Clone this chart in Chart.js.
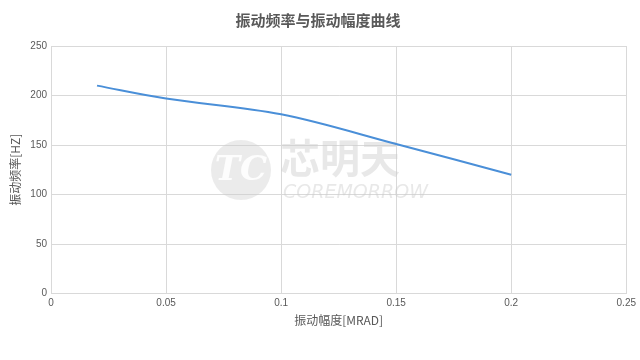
<!DOCTYPE html>
<html>
<head>
<meta charset="utf-8">
<script src="https://cdn.jsdelivr.net/npm/chart.js@4"></script>
<style>
  html, body { margin: 0; padding: 0; background: #fff; }
  #wrap { width: 640px; height: 360px; }
</style>
</head>
<body>
<div id="wrap"><canvas id="myChart"></canvas></div>
<script>
const amplitudes = [0.02, 0.05, 0.1, 0.15, 0.2];
const frequencies = [210, 197, 181, 151, 120];
const xTicks = [0, 0.05, 0.1, 0.15, 0.2, 0.25];
const yTicks = [0, 50, 100, 150, 200, 250];

const CJK = '"Noto Sans CJK SC", "Microsoft YaHei", sans-serif';
const GREY = '#595959';

// faint logo watermark behind the plot
const watermark = {
    id: 'watermark',
    beforeDatasetsDraw(chart) {
        const ctx = chart.ctx;
        ctx.save();
        ctx.fillStyle = 'rgba(205,205,205,0.4)';
        ctx.beginPath();
        ctx.arc(241, 170, 30, 0, Math.PI * 2);
        ctx.fill();
        ctx.fillStyle = 'rgba(255,255,255,0.9)';
        ctx.font = 'italic bold 34px "DejaVu Serif", serif';
        ctx.textAlign = 'center';
        ctx.textBaseline = 'middle';
        ctx.fillText('TC', 241, 171);
        ctx.fillStyle = 'rgba(205,205,205,0.45)';
        ctx.font = 'bold 40px ' + CJK;
        ctx.textAlign = 'left';
        ctx.fillText('芯明天', 280, 158);
        ctx.font = 'italic 19px "DejaVu Sans", sans-serif';
        ctx.fillText('COREMORROW', 283, 193);
        ctx.restore();
    }
};

const ctx = document.getElementById('myChart').getContext('2d');
const myChart = new Chart(ctx, {
    type: 'line',
    data: {
        datasets: [{
            data: amplitudes.map((x, i) => ({ x: x, y: frequencies[i] })),
            borderColor: '#4a8fd8',
            borderWidth: 2,
            pointRadius: 0,
            fill: false,
            tension: 0.35
        }]
    },
    options: {
        responsive: true,
        maintainAspectRatio: false,
        animation: false,
        layout: { padding: { left: 8, right: 12, top: 4, bottom: 28 } },
        plugins: {
            legend: { display: false },
            tooltip: { enabled: false },
            title: {
                display: true,
                text: '振动频率与振动幅度曲线',
                color: GREY,
                font: { family: CJK, size: 15, weight: 'bold' },
                padding: { top: 7, bottom: 17 }
            }
        },
        scales: {
            x: {
                type: 'linear',
                min: 0,
                max: 0.25,
                afterBuildTicks: s => { s.ticks = xTicks.map(v => ({ value: v })); },
                ticks: {
                    color: GREY,
                    font: { family: '"Liberation Sans", sans-serif', size: 10 },
                    maxRotation: 0,
                    padding: 4,
                    callback: v => String(v)
                },
                grid: { color: '#d9d9d9', drawTicks: false },
                border: { color: '#d9d9d9' },
                title: {
                    display: true,
                    text: '振动幅度[MRAD]',
                    color: GREY,
                    font: { family: CJK, size: 12 },
                    padding: { top: 0 }
                }
            },
            y: {
                min: 0,
                max: 250,
                afterBuildTicks: s => { s.ticks = yTicks.map(v => ({ value: v })); },
                afterFit: s => { s.width = 43; },
                ticks: {
                    color: GREY,
                    font: { family: '"Liberation Sans", sans-serif', size: 10 },
                    padding: 4
                },
                grid: { color: '#d9d9d9', drawTicks: false },
                border: { color: '#d9d9d9' },
                title: {
                    display: true,
                    text: '振动频率[HZ]',
                    color: GREY,
                    font: { family: CJK, size: 12 },
                    padding: 0
                }
            }
        }
    },
    plugins: [watermark]
});
</script>
</body>
</html>
